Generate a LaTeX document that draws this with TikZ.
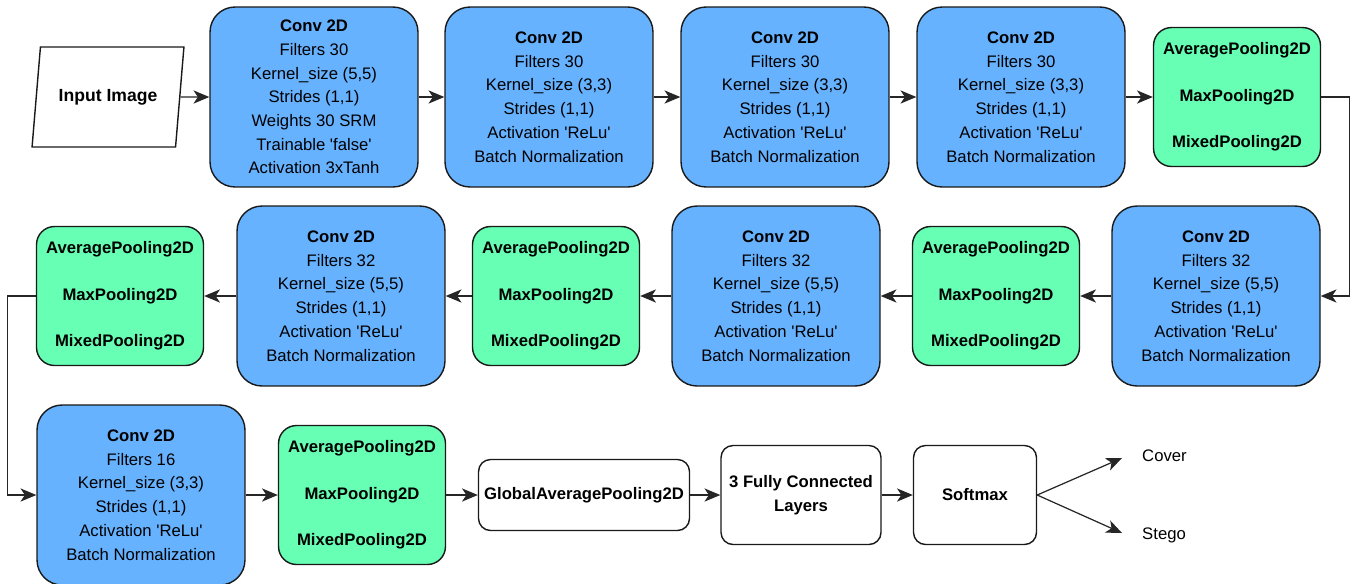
\documentclass[tikz,border=0pt]{standalone}
\usepackage{fontspec}
\setmainfont{Liberation Sans}
\usepackage{xcolor}
\usetikzlibrary{positioning,shapes.geometric,arrows.meta,calc}

\definecolor{convblue}{RGB}{102,178,255}
\definecolor{poolgreen}{RGB}{102,255,179}

\newcommand{\pooltxt}{AveragePooling2D\\[13pt]MaxPooling2D\\[13pt]MixedPooling2D}
\newcommand{\relu}{Activation \textquotesingle ReLu\textquotesingle}

\tikzset{
    base/.style={draw=black!90, line width=0.8pt, align=center, inner sep=2pt,
        font=\fontsize{9.5}{13.5}\selectfont},
    conv/.style={base, fill=convblue, rounded corners=0.5cm,
        minimum width=4.16cm, minimum height=3.6cm},
    pool/.style={base, fill=poolgreen, rounded corners=0.36cm,
        minimum width=3.34cm, minimum height=2.78cm,
        font=\fontsize{9.5}{13.5}\selectfont\bfseries},
    plainbox/.style={base, fill=white, rounded corners=0.24cm,
        font=\fontsize{9.5}{13.5}\selectfont\bfseries},
    link/.style={-{Stealth[length=9pt,width=7.5pt,inset=2.5pt]}, line width=0.7pt, black!85},
}

\begin{document}
\begin{tikzpicture}[x=0.02cm, y=-0.02cm]
    \useasboundingbox (0,0) rectangle (1354,583);

    % first row
    \node[base, trapezium, trapezium left angle=74, trapezium right angle=106,
        trapezium stretches=true, minimum width=3.06cm, minimum height=2cm,
        fill=white, font=\fontsize{10}{13.5}\selectfont\bfseries] (input) at (108,97) {Input Image};
    \node[conv] (conv1) at (314,97) {\textbf{Conv 2D}\\Filters 30\\Kernel\_size (5,5)\\Strides (1,1)\\Weights 30 SRM\\Trainable \textquotesingle false\textquotesingle\\Activation 3xTanh};
    \node[conv] (conv2) at (549,97) {\textbf{Conv 2D}\\Filters 30\\Kernel\_size (3,3)\\Strides (1,1)\\\relu\\Batch Normalization};
    \node[conv] (conv3) at (785,97) {\textbf{Conv 2D}\\Filters 30\\Kernel\_size (3,3)\\Strides (1,1)\\\relu\\Batch Normalization};
    \node[conv] (conv4) at (1021,97) {\textbf{Conv 2D}\\Filters 30\\Kernel\_size (3,3)\\Strides (1,1)\\\relu\\Batch Normalization};
    \node[pool] (pool1) at (1237,97) {\pooltxt};

    % second row (right to left)
    \node[conv] (conv5) at (1216,296) {\textbf{Conv 2D}\\Filters 32\\Kernel\_size (5,5)\\Strides (1,1)\\\relu\\Batch Normalization};
    \node[pool] (pool2) at (996,296) {\pooltxt};
    \node[conv] (conv6) at (776,296) {\textbf{Conv 2D}\\Filters 32\\Kernel\_size (5,5)\\Strides (1,1)\\\relu\\Batch Normalization};
    \node[pool] (pool3) at (556,296) {\pooltxt};
    \node[conv] (conv7) at (341,296) {\textbf{Conv 2D}\\Filters 32\\Kernel\_size (5,5)\\Strides (1,1)\\\relu\\Batch Normalization};
    \node[pool] (pool4) at (120,296) {\pooltxt};

    % third row
    \node[conv] (conv8) at (141,495) {\textbf{Conv 2D}\\Filters 16\\Kernel\_size (3,3)\\Strides (1,1)\\\relu\\Batch Normalization};
    \node[pool] (pool5) at (362,495) {\pooltxt};
    \node[plainbox, minimum width=4.22cm, minimum height=1.42cm] (gap) at (584,495) {GlobalAveragePooling2D};
    \node[plainbox, minimum width=3.2cm, minimum height=1.98cm] (fc) at (801,495) {3 Fully Connected\\Layers};
    \node[plainbox, minimum width=2.46cm, minimum height=1.98cm] (smax) at (975,495) {Softmax};

    \coordinate (covtip) at (1122,458);
    \coordinate (stegotip) at (1122,533);
    \node[font=\fontsize{9.5}{13.5}\selectfont, anchor=west] (cover) at (1136,456) {Cover};
    \node[font=\fontsize{9.5}{13.5}\selectfont, anchor=west] (stego) at (1136,535) {Stego};

    % connectors
    \draw[link] (input) -- (conv1);
    \draw[link] (conv1) -- (conv2);
    \draw[link] (conv2) -- (conv3);
    \draw[link] (conv3) -- (conv4);
    \draw[link] (conv4) -- (pool1);
    \draw[link] (pool1.east) -- ++(28,0) |- (conv5.east);
    \draw[link] (conv5) -- (pool2);
    \draw[link] (pool2) -- (conv6);
    \draw[link] (conv6) -- (pool3);
    \draw[link] (pool3) -- (conv7);
    \draw[link] (conv7) -- (pool4);
    \draw[link] (pool4.west) -- ++(-28,0) |- (conv8.west);
    \draw[link] (conv8) -- (pool5);
    \draw[link] (pool5) -- (gap);
    \draw[link] (gap) -- (fc);
    \draw[link] (fc) -- (smax);
    \draw[link] (smax.east) -- (covtip);
    \draw[link] (smax.east) -- (stegotip);
\end{tikzpicture}
\end{document}
